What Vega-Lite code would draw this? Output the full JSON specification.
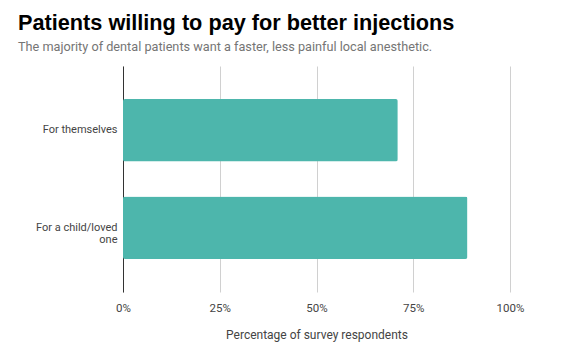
{
  "$schema": "https://vega.github.io/schema/vega-lite/v6.json",
  "autosize": "none",
  "width": 387,
  "height": 226,
  "padding": {"left": 123, "top": 66, "right": 64, "bottom": 69},
  "background": "white",
  "title": {
    "text": "Patients willing to pay for better injections",
    "subtitle": "The majority of dental patients want a faster, less painful local anesthetic.",
    "anchor": "start",
    "frame": "group",
    "dx": -105,
    "offset": 12,
    "font": "Liberation Sans",
    "fontSize": 21.7,
    "fontWeight": "bold",
    "color": "#000000",
    "subtitleFont": "Roboto",
    "subtitleFontSize": 12.7,
    "subtitleColor": "#757575",
    "subtitlePadding": 7
  },
  "data": {
    "values": [
      {"group": "For themselves", "pct": 0.71},
      {"group": "For a child/loved one", "pct": 0.89}
    ]
  },
  "mark": {"type": "bar", "color": "#4db6ac", "cornerRadius": 2},
  "encoding": {
    "y": {
      "field": "group",
      "type": "nominal",
      "sort": null,
      "scale": {"paddingInner": 0.36, "paddingOuter": 0.34},
      "axis": {
        "title": null,
        "ticks": false,
        "domainColor": "#333333",
        "domainWidth": 1,
        "labelFont": "Roboto",
        "labelFontSize": 11,
        "labelColor": "#444444",
        "labelPadding": 6,
        "labelLimit": 200,
        "labelLineHeight": 12,
        "labelExpr": "datum.label == 'For a child/loved one' ? ['For a child/loved', 'one'] : datum.label"
      }
    },
    "x": {
      "field": "pct",
      "type": "quantitative",
      "scale": {"domain": [0, 1]},
      "axis": {
        "title": "Percentage of survey respondents",
        "format": ".0%",
        "values": [0, 0.25, 0.5, 0.75, 1],
        "domain": false,
        "ticks": false,
        "grid": true,
        "gridColor": "#d0d0d0",
        "labelFlush": false,
        "labelFont": "Roboto",
        "labelFontSize": 11.5,
        "labelColor": "#444444",
        "labelPadding": 10,
        "titleFont": "Roboto",
        "titleFontSize": 12,
        "titleFontWeight": "normal",
        "titleColor": "#444444",
        "titlePadding": 16
      }
    }
  },
  "config": {"view": {"stroke": null}}
}
